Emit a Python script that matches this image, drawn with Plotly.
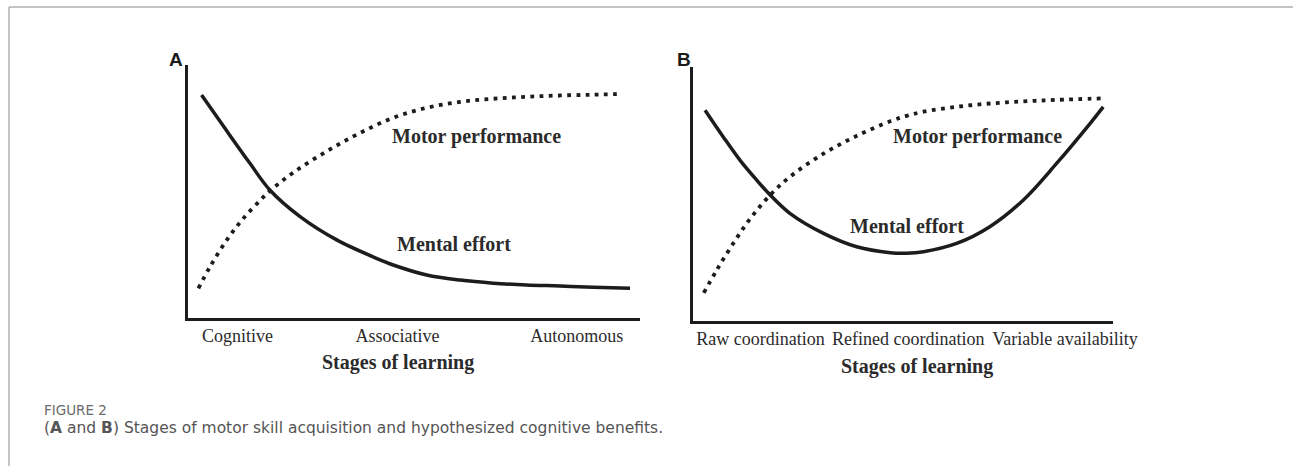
import plotly.graph_objects as go

W, H = 1293, 466

# ---------------- data (arbitrary units, 0-100) ----------------
# Panel A
a_mental_x = [3.0, 8.6, 13.7, 18.1, 24.8, 32.9, 41.7, 45.4, 52.8, 60.2, 67.5, 74.9, 82.3, 89.7, 97.8]
a_mental_y = [87.1, 73.0, 60.4, 50.0, 39.6, 30.5, 23.3, 20.7, 16.8, 14.8, 13.6, 12.9, 12.5, 12.0, 11.6]
a_motor_x = [2.3, 4.9, 8.6, 12.2, 15.9, 18.1, 23.3, 30.6, 38.1, 45.4, 52.8, 60.2, 67.5, 74.9, 82.3, 89.7, 95.9]
a_motor_y = [11.6, 20.1, 30.5, 38.8, 45.8, 49.6, 56.8, 65.0, 72.3, 78.2, 82.1, 84.4, 85.6, 86.4, 86.9, 87.2, 87.5]
a_tick_vals = [10.95, 46.35, 86.0]
a_tick_text = ["Cognitive", "Associative", "Autonomous"]

# Panel B
b_mental_x = [2.8, 7.1, 11.1, 15.1, 17.9, 23.0, 31.0, 38.9, 46.9, 50.8, 54.8, 62.7, 70.6, 78.6, 86.5, 94.5, 97.6]
b_mental_y = [81.3, 71.0, 61.9, 54.1, 49.0, 41.2, 33.4, 28.2, 25.9, 25.7, 26.3, 29.5, 36.0, 46.4, 60.6, 76.2, 82.6]
b_motor_x = [2.5, 5.6, 9.5, 13.5, 17.9, 23.0, 31.0, 38.9, 46.9, 50.8, 54.8, 62.7, 70.6, 78.6, 86.5, 97.6]
b_motor_y = [10.3, 19.2, 29.5, 39.0, 47.6, 55.4, 64.4, 71.3, 77.0, 79.1, 80.7, 82.6, 83.9, 84.7, 85.3, 85.9]
b_tick_vals = [16.0, 51.2, 88.5]
b_tick_text = ["Raw coordination", "Refined coordination", "Variable availability"]

axis_title = "Stages of learning"
label_motor = "Motor performance"
label_mental = "Mental effort"
caption_head = "FIGURE 2"
caption_text = "(<b>A</b> and <b>B</b>) Stages of motor skill acquisition and hypothesized cognitive benefits."

# ---------------- styling ----------------
SERIF = "Liberation Serif"
SANS = "DejaVu Sans"
LINE = "#1c1c1c"
TXT = "#2b2b2b"
DOT = "3.8px,5.4px"


def px_x(p):
    return p / W


def px_y(p):
    return 1 - p / H


fig = go.Figure()

fig.add_trace(go.Scatter(x=a_mental_x, y=a_mental_y, mode="lines", line=dict(color=LINE, width=3.5, shape="spline"),
                         xaxis="x", yaxis="y", showlegend=False, hoverinfo="skip"))
fig.add_trace(go.Scatter(x=a_motor_x, y=a_motor_y, mode="lines",
                         line=dict(color=LINE, width=3.8, dash=DOT, shape="spline"),
                         xaxis="x", yaxis="y", showlegend=False, hoverinfo="skip"))
fig.add_trace(go.Scatter(x=b_mental_x, y=b_mental_y, mode="lines", line=dict(color=LINE, width=3.5, shape="spline"),
                         xaxis="x2", yaxis="y2", showlegend=False, hoverinfo="skip"))
fig.add_trace(go.Scatter(x=b_motor_x, y=b_motor_y, mode="lines",
                         line=dict(color=LINE, width=3.8, dash=DOT, shape="spline"),
                         xaxis="x2", yaxis="y2", showlegend=False, hoverinfo="skip"))

xcommon = dict(showgrid=False, zeroline=False, showline=True, linecolor=LINE, linewidth=2.5, automargin=False,
               ticks="", tickfont=dict(family=SERIF, size=18, color=TXT), fixedrange=True)
ycommon = dict(showgrid=False, zeroline=False, showline=True, linecolor=LINE, linewidth=2.5, automargin=False,
               showticklabels=False, ticks="", fixedrange=True)

fig.update_layout(
    width=W, height=H, autosize=False,
    margin=dict(l=0, r=0, t=0, b=0, pad=0, autoexpand=False),
    paper_bgcolor="white", plot_bgcolor="white",
    xaxis=dict(domain=[px_x(188), px_x(640)], range=[0, 100], anchor="y",
               tickmode="array", tickvals=a_tick_vals, ticktext=a_tick_text, **xcommon),
    yaxis=dict(domain=[px_y(318), px_y(65)], range=[0, 98.8], anchor="x", **ycommon),
    xaxis2=dict(domain=[px_x(693.3), px_x(1113.3)], range=[0, 100], anchor="y2",
                tickmode="array", tickvals=b_tick_vals, ticktext=b_tick_text, **xcommon),
    yaxis2=dict(domain=[px_y(320.7), px_y(66.7)], range=[-0.54, 98.2], anchor="x2", **ycommon),
)

bold20 = dict(family=SERIF, size=20, color=TXT)
C = dict(showarrow=False, xanchor="center", yanchor="middle")
ann = []
# curve labels
ann.append(dict(x=63.9, y=70.7, xref="x", yref="y", text="<b>%s</b>" % label_motor, font=bold20, **C))
ann.append(dict(x=58.9, y=28.9, xref="x", yref="y", text="<b>%s</b>" % label_mental, font=bold20, **C))
ann.append(dict(x=67.7, y=70.9, xref="x2", yref="y2", text="<b>%s</b>" % label_motor, font=bold20, **C))
ann.append(dict(x=50.9, y=36.4, xref="x2", yref="y2", text="<b>%s</b>" % label_mental, font=bold20, **C))
# axis titles
ann.append(dict(x=46.35, y=px_y(362), xref="x", yref="paper", text="<b>%s</b>" % axis_title, font=bold20, **C))
ann.append(dict(x=53.2, y=px_y(366), xref="x2", yref="paper", text="<b>%s</b>" % axis_title, font=bold20, **C))
# panel letters
ann.append(dict(x=px_x(175.5), y=px_y(60), xref="paper", yref="paper", text="<b>A</b>",
                font=dict(family="Liberation Sans", size=19, color="#1a1a1a"), **C))
ann.append(dict(x=px_x(683.5), y=px_y(59), xref="paper", yref="paper", text="<b>B</b>",
                font=dict(family="Liberation Sans", size=19, color="#1a1a1a"), **C))
# caption
ann.append(dict(x=px_x(42), y=px_y(410), xref="paper", yref="paper", xanchor="left", yanchor="middle",
                text=caption_head, font=dict(family=SANS, size=13.5, color="#6b6b6b"), showarrow=False))
ann.append(dict(x=px_x(42), y=px_y(427.5), xref="paper", yref="paper", xanchor="left", yanchor="middle",
                text=caption_text, font=dict(family=SANS, size=15.5, color="#555555"), showarrow=False))
fig.update_layout(annotations=ann)

# frame lines of the figure box
fig.add_shape(type="line", xref="paper", yref="paper", x0=px_x(9), x1=1, y0=px_y(7), y1=px_y(7),
              line=dict(color="#b0b0b0", width=1.5))
fig.add_shape(type="line", xref="paper", yref="paper", x0=px_x(9), x1=px_x(9), y0=px_y(7), y1=0,
              line=dict(color="#b0b0b0", width=1.5))

fig.write_html("out.html", config={"displayModeBar": False},
               post_script="document.body.style.margin='0';document.body.style.overflow='hidden';")
